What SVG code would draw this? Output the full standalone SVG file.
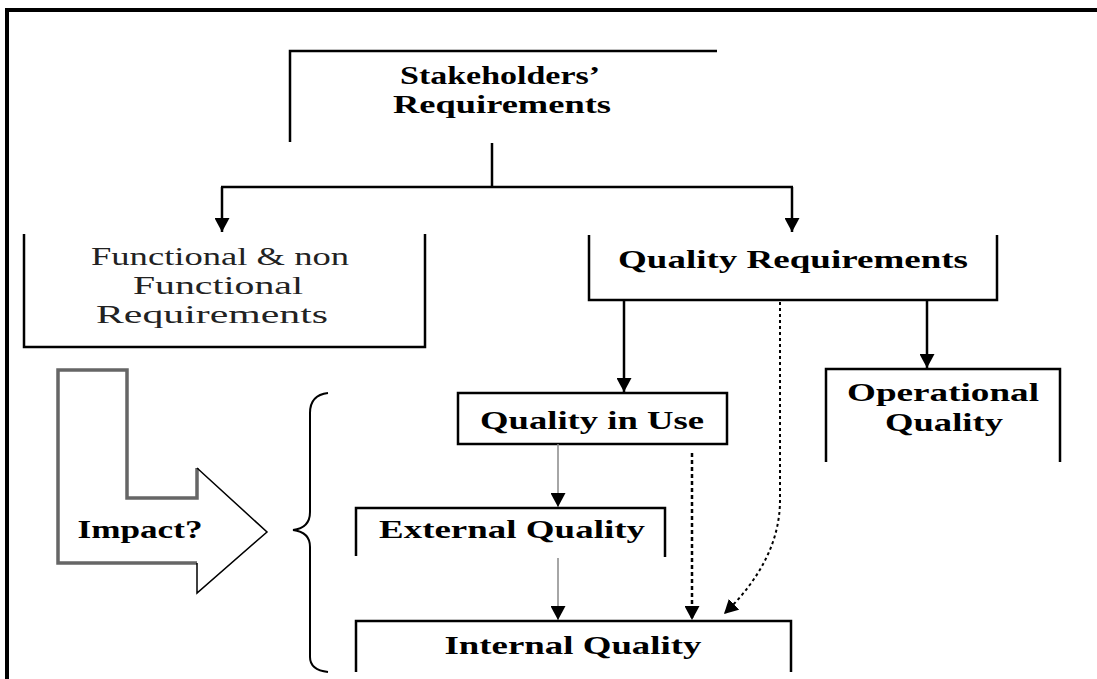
<svg xmlns="http://www.w3.org/2000/svg" width="1097" height="679" viewBox="0 0 1097 679">
<defs>
<style>
.bx{fill:none;stroke:#000;stroke-width:2.5}
.ln{fill:none;stroke:#000;stroke-width:2.5}
.thin{fill:none;stroke:#888;stroke-width:1.5}
.dash{fill:none;stroke:#000;stroke-width:2.5;stroke-dasharray:4 3}
.dash2{fill:none;stroke:#000;stroke-width:2;stroke-dasharray:3 3}
.t{font-family:"Liberation Serif","Times New Roman",serif;font-size:25px;fill:#000;text-anchor:middle}
.b{font-weight:bold}
.r{fill:#222}
</style>
<marker id="ah" markerUnits="userSpaceOnUse" markerWidth="15" markerHeight="15" refX="14" refY="7.5" orient="auto" viewBox="0 0 15 15">
<path d="M0,0 L14,7.5 L0,15 z" fill="#000"/>
</marker>
</defs>
<rect x="0" y="0" width="1097" height="679" fill="#fff"/>
<g id="frame">
<line x1="5" y1="10" x2="1097" y2="10" stroke="#000" stroke-width="4"/>
<line x1="7" y1="8" x2="7" y2="679" stroke="#000" stroke-width="4"/>
</g>
<g id="stakeholders">
<polyline class="bx" points="290,142 290,51 717,51"/>
<text class="t b" x="500" y="84" textLength="200" lengthAdjust="spacingAndGlyphs">Stakeholders’</text>
<text class="t b" x="502" y="113" textLength="218" lengthAdjust="spacingAndGlyphs">Requirements</text>
</g>
<g id="functional">
<polyline class="bx" points="24,234 24,347 425,347 425,234"/>
<text class="t r" x="220" y="265" textLength="258" lengthAdjust="spacingAndGlyphs">Functional &amp; non</text>
<text class="t r" x="218" y="294" textLength="170" lengthAdjust="spacingAndGlyphs">Functional</text>
<text class="t r" x="212" y="323" textLength="232" lengthAdjust="spacingAndGlyphs">Requirements</text>
</g>
<g id="quality-requirements">
<polyline class="bx" points="589,235 589,300 997,300 997,235"/>
<text class="t b" x="793" y="268" textLength="350" lengthAdjust="spacingAndGlyphs">Quality Requirements</text>
</g>
<g id="quality-in-use">
<rect class="bx" x="458" y="393" width="269" height="51"/>
<text class="t b" x="592" y="429" textLength="224" lengthAdjust="spacingAndGlyphs">Quality in Use</text>
</g>
<g id="operational-quality">
<polyline class="bx" points="826,462 826,369 1060,369 1060,462"/>
<text class="t b" x="943" y="401" textLength="192" lengthAdjust="spacingAndGlyphs">Operational</text>
<text class="t b" x="944" y="431" textLength="118" lengthAdjust="spacingAndGlyphs">Quality</text>
</g>
<g id="external-quality">
<polyline class="bx" points="356,556 356,508 665,508 665,557"/>
<text class="t b" x="512" y="538" textLength="266" lengthAdjust="spacingAndGlyphs">External Quality</text>
</g>
<g id="internal-quality">
<polyline class="bx" points="356,672 356,621 791,621 791,672"/>
<text class="t b" x="573" y="654" textLength="257" lengthAdjust="spacingAndGlyphs">Internal Quality</text>
</g>
<g id="impact">
<polyline points="197,563 58,563 58,370 127,370 127,498 197,498 197,468" fill="none" stroke="#666" stroke-width="3.5"/>
<polyline points="197,468 267,532 197,593 197,563" fill="none" stroke="#000" stroke-width="1.5"/>
<text class="t b" x="140" y="538" textLength="125" lengthAdjust="spacingAndGlyphs">Impact?</text>
</g>
<g id="brace">
<path d="M328,393 Q310,395 310,413 L310,512 Q310,528 293,530 Q310,532 310,547 L310,657 Q310,670 328,672" fill="none" stroke="#000" stroke-width="2"/>
</g>
<g id="connectors">
<line class="ln" x1="492" y1="143" x2="492" y2="187"/>
<line class="ln" x1="221" y1="187" x2="793" y2="187"/>
<line class="ln" x1="222" y1="187" x2="222" y2="232" marker-end="url(#ah)"/>
<line class="ln" x1="792" y1="187" x2="792" y2="232" marker-end="url(#ah)"/>
<line class="ln" x1="624" y1="300" x2="624" y2="392" marker-end="url(#ah)"/>
<line class="ln" x1="927" y1="300" x2="927" y2="368" marker-end="url(#ah)"/>
<line class="thin" x1="558" y1="444" x2="558" y2="507" marker-end="url(#ah)"/>
<line class="thin" x1="558" y1="558" x2="558" y2="620" marker-end="url(#ah)"/>
<line class="dash" x1="692" y1="453" x2="692" y2="620" marker-end="url(#ah)"/>
<path class="dash2" d="M780,302 L780,500 Q780,560 724,614" marker-end="url(#ah)"/>
</g>
</svg>
